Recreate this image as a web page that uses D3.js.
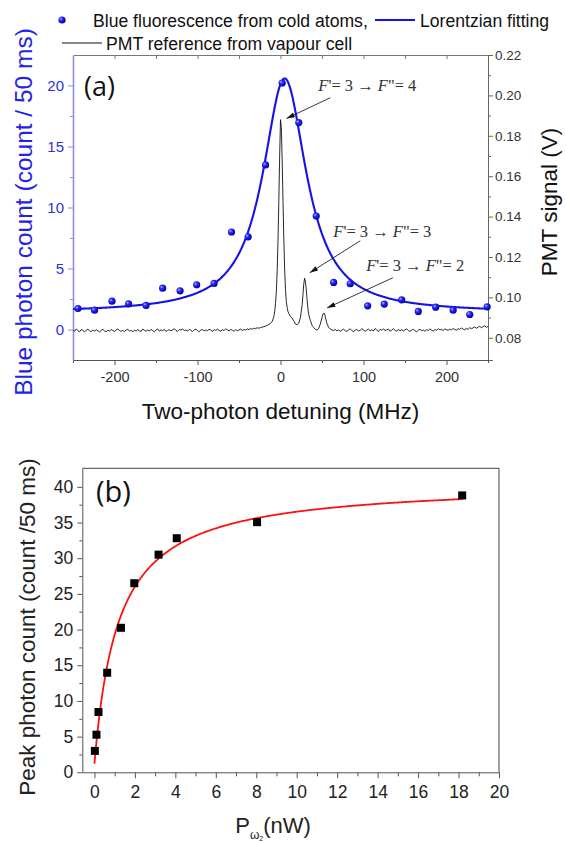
<!DOCTYPE html>
<html><head><meta charset="utf-8">
<script src="https://cdn.jsdelivr.net/npm/d3@7/dist/d3.min.js"></script>
<style>
body{margin:0;background:#fff}
text{font-family:"Liberation Sans",Arial,sans-serif}
</style>
</head><body>
<script>
// ---------- DATA: panel (a) ----------
const fluoDetuning = [-244,-224,-203,-183,-162,-142,-121,-101,-80,-59,-39,-18,2,22,43,64,84,105,125,146,166,187,208,228,249];
const fluoCounts   = [1.72,1.58,2.32,2.10,1.97,3.39,3.17,3.66,3.78,7.99,7.60,13.49,20.2,16.96,9.30,3.86,3.75,1.94,2.08,2.43,1.48,1.83,1.58,1.23,1.86];
// Lorentzian fit parameters
const lorOffset = 1.38, lorCenter = 5, lorFWHM = 64, lorHeight = 19.2;

// PMT reference trace (signal in mV)
const pmtLeftDetuning  = d3.range(-250, -21, 2);
const pmtLeftSignal = [
83.9,83.2,84.4,83.5,83.0,84.1,83.6,82.9,83.8,84.3,
83.4,83.1,83.9,83.3,84.0,83.5,82.8,83.7,84.2,83.4,
83.0,83.8,83.3,84.1,83.6,83.1,83.9,84.4,83.5,83.2,
83.7,83.0,83.9,84.2,83.4,83.6,82.9,83.8,83.3,84.0,
83.5,83.1,84.3,83.7,83.2,83.9,83.4,84.1,83.6,83.0,
83.8,84.4,83.3,83.9,83.5,84.2,83.1,83.7,84.0,83.4,
83.9,84.5,83.6,83.2,84.1,83.8,84.4,83.5,83.9,83.3,
84.2,83.7,83.1,83.9,84.3,83.6,83.0,83.8,84.1,83.4,
83.9,83.5,84.2,83.8,83.2,84.0,83.6,84.3,83.7,83.3,
84.0,83.6,84.4,83.9,83.4,84.1,83.7,83.2,84.0,83.5,
83.9,84.3,83.6,84.1,83.8,84.4,84.0,84.6,84.2,84.8,
84.5,85.0,84.7,85.1,85.3];
const pmtPeakDetuning = [-20,-18,-16,-14,-12,-10,-8,-7,-6,-5,-4,-3,-2,-1,0,1,2,3,4,5,6,7,8,9,10,
  12,14,16,18,20,22,24,26,27,28,29,30,31,32,33,34,36,38,40,42,44,46,48,50,51,52,53,54,56,58,60,62];
const pmtPeakSignal = [85.5,85.8,86.1,86.6,87.2,88.0,90.5,93.0,97.0,103,113,128,148,170,188,184,168,148,129,114,104,98,95,93,92,
  90.6,89.8,88.4,86.8,86.5,87.3,90.0,96.0,101,106.5,109.5,108.0,104,99,94.5,91.5,88.5,86.2,85.0,84.2,83.8,84.6,86.8,90.0,91.6,92.2,92.0,90.4,87.0,85.2,84.3,83.9];
const pmtRightDetuning = d3.range(64, 251, 2);
const pmtRightSignal = [
83.6,84.1,83.4,83.9,83.2,83.8,84.3,83.5,83.1,83.9,
84.4,83.6,83.0,83.8,84.2,83.3,83.7,84.5,83.9,83.2,
83.8,84.3,83.5,84.0,83.4,84.6,83.8,83.1,84.2,83.7,
84.4,83.6,83.9,84.3,83.2,83.8,84.5,83.7,83.3,84.1,
83.5,84.0,83.4,83.9,84.4,83.6,83.1,83.8,84.2,83.5,
83.0,83.7,84.3,83.4,83.9,83.2,84.0,83.6,84.4,83.8,
83.3,84.1,83.7,84.5,83.9,84.2,83.6,84.4,84.0,83.7,
84.3,83.9,84.6,84.1,83.8,84.5,84.2,84.8,84.3,84.0,
84.6,84.2,85.0,84.5,84.9,85.4,84.7,85.2,85.8,84.9,
85.5,86.0,85.2,85.6];

const xTicksA = [-200,-100,0,100,200];
const xMinorA = [-250,-150,-50,50,150,250];
const xTopTicksA = [-200,-150,-100,-50,0,50,100,150,200];
const yTicksA = [0,5,10,15,20];
const yMinorA = [2.5,7.5,12.5,17.5];
const pmtTicks = [0.08,0.10,0.12,0.14,0.16,0.18,0.20,0.22];
const pmtMinor = [0.09,0.11,0.13,0.15,0.17,0.19,0.21];

// ---------- DATA: panel (b) ----------
const powerNW    = [0.02,0.10,0.20,0.63,1.31,1.97,3.17,4.07,8.04,18.18];
const peakCounts = [3.0,5.27,8.45,13.95,20.25,26.5,30.5,32.8,35.05,38.8];
// saturation fit parameters
const satOffset = 1.2, satMax = 39.5, satPower = 1.185, satFitEnd = 18.2;
const xTicksB = [0,2,4,6,8,10,12,14,16,18,20];
const xMinorB = [1,3,5,7,9,11,13,15,17,19];
const yTicksB = [0,5,10,15,20,25,30,35,40];
const yMinorB = [2.5,7.5,12.5,17.5,22.5,27.5,32.5,37.5];

// ---------- DRAW ----------
const svg = d3.select('body').append('svg').attr('width',566).attr('height',842).style('display','block');
const defs = svg.append('defs');
const grad = defs.append('radialGradient').attr('id','ball').attr('cx','35%').attr('cy','35%').attr('r','65%');
grad.append('stop').attr('offset','0%').attr('stop-color','#b8b8ff');
grad.append('stop').attr('offset','35%').attr('stop-color','#2b2bff');
grad.append('stop').attr('offset','100%').attr('stop-color','#0000a8');
defs.append('marker').attr('id','arr').attr('viewBox','0 0 10 6').attr('refX',10).attr('refY',3)
  .attr('markerWidth',9).attr('markerHeight',5).attr('markerUnits','userSpaceOnUse').attr('orient','auto')
  .append('path').attr('d','M0,0 L10,3 L0,6 Z').attr('fill','#111');

const xA = d3.scaleLinear().domain([-250,250]).range([73,488]);
const yA = d3.scaleLinear().domain([-2.5,22.5]).range([360,55]);
const yP = d3.scaleLinear().domain([0.069,0.22]).range([360,55]);

defs.append('clipPath').attr('id','clipA').append('rect').attr('x',73).attr('y',55).attr('width',415).attr('height',305);

function style(g, col, txt, fs){
  g.select('.domain').attr('stroke',col);
  g.selectAll('.tick line').attr('stroke',col);
  g.selectAll('.tick text').attr('fill',txt).style('font-size',fs+'px').style('font-family','"Liberation Sans",Arial,sans-serif');
  return g;
}
const fmt = d => String(d);

// top axis (a)
style(svg.append('g').attr('transform','translate(0,55)')
  .call(d3.axisTop(xA).tickValues(xTopTicksA).tickSizeInner(-4).tickSizeOuter(0).tickFormat('')), '#777','#333',14);
// right axis (a)
style(svg.append('g').attr('transform','translate(488,0)')
  .call(d3.axisRight(yP).tickValues(pmtTicks).tickSize(5).tickPadding(2).tickFormat(d3.format('.2f'))), '#666','#333',13.5);
const rmin = svg.append('g').attr('transform','translate(488,0)')
  .call(d3.axisRight(yP).tickValues(pmtMinor).tickSize(3).tickFormat(''));
rmin.select('.domain').remove(); rmin.selectAll('line').attr('stroke','#666');
// bottom axis (a)
style(svg.append('g').attr('transform','translate(0,360)')
  .call(d3.axisBottom(xA).tickValues(xTicksA).tickSize(5).tickPadding(7).tickSizeOuter(0).tickFormat(fmt)), '#555','#333',14.5);
const bmin = svg.append('g').attr('transform','translate(0,360)')
  .call(d3.axisBottom(xA).tickValues(xMinorA).tickSize(3).tickFormat(''));
bmin.select('.domain').remove(); bmin.selectAll('line').attr('stroke','#555');
// left axis (a)
const la = style(svg.append('g').attr('transform','translate(73,0)')
  .call(d3.axisLeft(yA).tickValues(yTicksA).tickSize(5).tickPadding(4).tickSizeOuter(0).tickFormat(fmt)), '#8f8fee','#2f2fe0',15);
la.select('.domain').attr('stroke-width',1.6);
const lmin = svg.append('g').attr('transform','translate(73,0)')
  .call(d3.axisLeft(yA).tickValues(yMinorA).tickSize(3).tickFormat(''));
lmin.select('.domain').remove(); lmin.selectAll('line').attr('stroke','#8f8fee');

const plotA = svg.append('g').attr('clip-path','url(#clipA)');
// PMT trace
const pmtX = pmtLeftDetuning.concat(pmtPeakDetuning, pmtRightDetuning);
const pmtV = pmtLeftSignal.concat(pmtPeakSignal, pmtRightSignal);
const pmtPts = pmtX.map((x,i)=>[x, pmtV[i]/1000]);
plotA.append('path').datum(pmtPts)
  .attr('d', d3.line().x(d=>xA(d[0])).y(d=>yP(d[1])))
  .attr('fill','none').attr('stroke','#111').attr('stroke-width',0.9);
// Lorentzian fit
const lor = x => lorOffset + lorHeight/(1+Math.pow(2*(x-lorCenter)/lorFWHM,2));
plotA.append('path').datum(d3.range(-250,250.5,1))
  .attr('d', d3.line().x(d=>xA(d)).y(d=>yA(lor(d))))
  .attr('fill','none').attr('stroke','#1414e6').attr('stroke-width',2.1);
// dots
svg.append('g').selectAll('circle').data(fluoDetuning).join('circle')
  .attr('cx',d=>xA(d)).attr('cy',(d,i)=>yA(fluoCounts[i])).attr('r',3.6).attr('fill','url(#ball)');

// annotations
const annA = svg.append('g');
function label(x, y, sub){
  const t = annA.append('text').attr('x',xA(x)).attr('y',yA(y))
    .style('font-family','"Liberation Serif","Times New Roman",serif').style('font-size','16.5px').attr('fill','#333');
  t.append('tspan').attr('font-style','italic').text('F');
  t.append('tspan').text("'= 3 \u2192 ");
  t.append('tspan').attr('font-style','italic').text('F');
  t.append('tspan').text('"= '+sub);
}
label(45.6,19.52,'4'); label(63.7,7.62,'3'); label(103.3,4.79,'2');
function arrow(x1,y1,x2,y2){
  annA.append('line').attr('x1',xA(x1)).attr('y1',yA(y1)).attr('x2',xA(x2)).attr('y2',yA(y2))
    .attr('stroke','#222').attr('stroke-width',0.9).attr('marker-end','url(#arr)');
}
arrow(60.1,19.0,7.2,17.3); arrow(96.1,7.27,35.2,4.65); arrow(135.4,4.24,56.1,1.77);

svg.append('text').attr('x',84).attr('y',96).text('(a)').style('font-size','27px').style('font-family','"Open Sans","Liberation Sans",sans-serif').attr('fill','#111');

// legend
svg.append('circle').attr('cx',62).attr('cy',20).attr('r',3.6).attr('fill','url(#ball)');
svg.append('text').attr('x',93).attr('y',26.5).text('Blue fluorescence from cold atoms,').style('font-size','17.6px').attr('fill','#111');
svg.append('line').attr('x1',375).attr('x2',415).attr('y1',20).attr('y2',20).attr('stroke','#1414e6').attr('stroke-width',2);
svg.append('text').attr('x',420).attr('y',26.5).text('Lorentzian fitting').style('font-size','17.6px').attr('fill','#111');
svg.append('line').attr('x1',62).attr('x2',102).attr('y1',43).attr('y2',43).attr('stroke','#111').attr('stroke-width',1);
svg.append('text').attr('x',106).attr('y',49.5).text('PMT reference from vapour cell').style('font-size','17.6px').attr('fill','#111');

// axis titles (a)
svg.append('text').attr('transform','translate(32,212) rotate(-90)').attr('text-anchor','middle')
  .text('Blue photon count (count / 50 ms)').style('font-size','24.5px').attr('fill','#2323e8');
svg.append('text').attr('transform','translate(557,202) rotate(-90)').attr('text-anchor','middle')
  .text('PMT signal (V)').style('font-size','22.5px').attr('fill','#111');
svg.append('text').attr('x',280.5).attr('y',419).attr('text-anchor','middle')
  .text('Two-photon detuning (MHz)').style('font-size','22.5px').attr('fill','#111');

// ---------- panel (b) ----------
const xB = d3.scaleLinear().domain([-0.6,20]).range([82.3,499]);
const yB = d3.scaleLinear().domain([0,42.6]).range([772.3,468.3]);
svg.append('path').attr('d',`M${xB(-0.6)},${yB(42.6)}H${xB(20)}V${yB(0)}`).attr('fill','none').attr('stroke','#444').attr('stroke-width',1);
style(svg.append('g').attr('transform',`translate(0,${yB(0)})`)
  .call(d3.axisBottom(xB).tickValues(xTicksB).tickSize(6).tickPadding(7).tickSizeOuter(0).tickFormat(fmt)), '#555','#222',17.5);
const bbm = svg.append('g').attr('transform',`translate(0,${yB(0)})`)
  .call(d3.axisBottom(xB).tickValues(xMinorB).tickSize(4).tickFormat(''));
bbm.select('.domain').remove(); bbm.selectAll('line').attr('stroke','#555');
style(svg.append('g').attr('transform',`translate(${xB(-0.6)},0)`)
  .call(d3.axisLeft(yB).tickValues(yTicksB).tickSize(5).tickPadding(4).tickSizeOuter(0).tickFormat(fmt)), '#555','#222',17.5);
const blm = svg.append('g').attr('transform',`translate(${xB(-0.6)},0)`)
  .call(d3.axisLeft(yB).tickValues(yMinorB).tickSize(3).tickFormat(''));
blm.select('.domain').remove(); blm.selectAll('line').attr('stroke','#555');

const sat = p => satOffset + satMax*p/(p+satPower);
svg.append('path').datum(d3.range(0, satFitEnd+0.001, 0.05))
  .attr('d', d3.line().x(d=>xB(d)).y(d=>yB(sat(d))))
  .attr('fill','none').attr('stroke','#ff1010').attr('stroke-width',1.8);
svg.append('g').selectAll('rect').data(powerNW).join('rect')
  .attr('x',d=>xB(d)-4).attr('y',(d,i)=>yB(peakCounts[i])-4).attr('width',8).attr('height',8).attr('fill','#000');

svg.append('text').attr('x',96).attr('y',502).text('(b)').style('font-size','29px').style('font-family','"Open Sans","Liberation Sans",sans-serif').attr('fill','#111');
svg.append('text').attr('transform','translate(35,627) rotate(-90)').attr('text-anchor','middle')
  .text('Peak photon count (count /50 ms)').style('font-size','22.5px').attr('fill','#222');
const xl = svg.append('text').attr('x',273).attr('y',833).attr('text-anchor','middle').style('font-size','22px').attr('fill','#222');
xl.append('tspan').text('P');
xl.append('tspan').attr('dy',6).style('font-size','12px').text('\u03c9');
xl.append('tspan').attr('dy',2).style('font-size','7px').text('2');
xl.append('tspan').attr('dy',-8).text('(nW)');
</script>
</body></html>
